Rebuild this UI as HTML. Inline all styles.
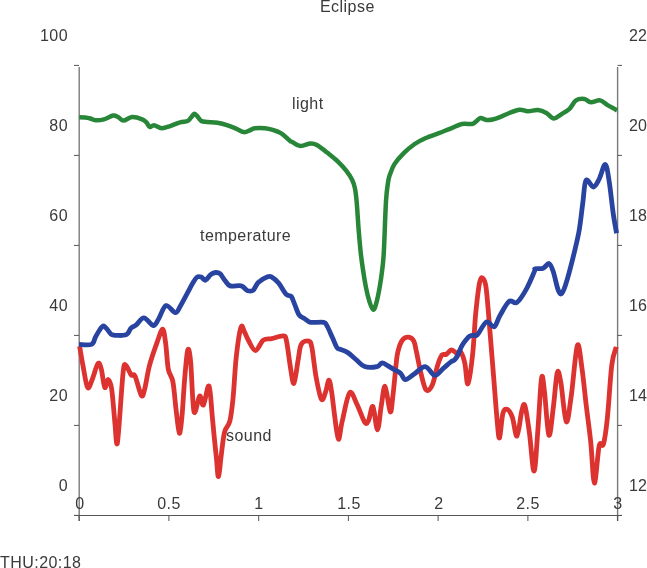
<!DOCTYPE html>
<html><head><meta charset="utf-8"><style>
html,body{margin:0;padding:0;background:#fff;width:647px;height:568px;overflow:hidden}
body{position:relative;font-family:"Liberation Sans",sans-serif;color:#222}
.t{position:absolute;font-size:16px;line-height:16px;white-space:nowrap;letter-spacing:0.45px;color:#3a3a3a;will-change:transform}
.r{text-align:right;width:40px}
.c{text-align:center;width:60px}
</style></head><body>
<svg width="647" height="568" viewBox="0 0 647 568" style="position:absolute;left:0;top:0">
<g stroke="#555" stroke-width="1" fill="none">
<line x1="79.2" y1="67" x2="79.2" y2="521" stroke="#7a7a7a" stroke-width="1.4"/>
<line x1="617.6" y1="67" x2="617.6" y2="521" stroke="#7a7a7a" stroke-width="1.4"/>
<line x1="74" y1="515.5" x2="622" y2="515.5" stroke="#555" stroke-width="1"/>
<line x1="74" y1="65.4" x2="79" y2="65.4"/>
<line x1="617.6" y1="65.4" x2="622" y2="65.4"/>
<line x1="74" y1="155.4" x2="79" y2="155.4"/>
<line x1="617.6" y1="155.4" x2="622" y2="155.4"/>
<line x1="74" y1="245.4" x2="79" y2="245.4"/>
<line x1="617.6" y1="245.4" x2="622" y2="245.4"/>
<line x1="74" y1="335.4" x2="79" y2="335.4"/>
<line x1="617.6" y1="335.4" x2="622" y2="335.4"/>
<line x1="74" y1="425.4" x2="79" y2="425.4"/>
<line x1="617.6" y1="425.4" x2="622" y2="425.4"/>
<line x1="74" y1="515.4" x2="79" y2="515.4"/>
<line x1="617.6" y1="515.4" x2="622" y2="515.4"/>
<line x1="79.2" y1="515.5" x2="79.2" y2="521"/>
<line x1="168.9" y1="515.5" x2="168.9" y2="521"/>
<line x1="258.7" y1="515.5" x2="258.7" y2="521"/>
<line x1="348.4" y1="515.5" x2="348.4" y2="521"/>
<line x1="438.1" y1="515.5" x2="438.1" y2="521"/>
<line x1="527.9" y1="515.5" x2="527.9" y2="521"/>
<line x1="617.6" y1="515.5" x2="617.6" y2="521"/>
</g>
<g fill="none" stroke-width="4.7" stroke-linejoin="round" stroke-linecap="butt">
<path stroke="#dc3230" stroke-width="4.8" d="M79.6,346.3 C80.2,349.6 81.7,358.9 83.0,365.8 C84.3,372.7 86.1,385.2 87.6,387.5 C89.1,389.8 90.5,383.5 92.2,379.5 C93.9,375.5 96.4,365.2 97.9,363.5 C99.4,361.8 100.2,365.2 101.3,369.2 C102.4,373.2 103.6,385.8 104.8,387.5 C106.0,389.2 107.1,379.3 108.2,379.5 C109.3,379.7 110.4,381.1 111.6,388.7 C112.8,396.3 114.2,416.1 115.1,425.3 C115.9,434.5 116.1,442.5 116.7,443.6 C117.3,444.8 117.4,444.0 118.5,432.2 C119.6,420.4 121.9,383.8 123.1,372.6 C124.3,361.5 124.5,364.9 125.8,365.3 C127.1,365.7 129.6,373.1 131.1,374.9 C132.6,376.7 133.3,372.6 135.0,376.0 C136.7,379.4 139.8,393.4 141.4,395.5 C143.0,397.6 143.5,393.6 144.8,388.7 C146.1,383.8 147.4,373.4 149.4,365.8 C151.4,358.2 154.7,349.0 156.9,342.9 C159.1,336.8 161.2,329.2 162.6,329.2 C164.0,329.2 164.6,336.2 165.6,342.9 C166.6,349.6 167.1,362.7 168.3,369.2 C169.5,375.7 171.6,374.7 172.9,381.8 C174.2,388.9 175.2,403.0 176.3,411.6 C177.4,420.2 178.4,432.6 179.3,433.3 C180.2,434.1 181.1,425.5 182.0,416.1 C182.9,406.8 183.8,388.2 184.8,377.2 C185.8,366.1 186.8,352.3 187.8,349.8 C188.8,347.3 189.7,352.0 190.7,362.3 C191.7,372.6 192.5,406.0 194.0,411.6 C195.5,417.2 198.0,397.1 199.6,396.0 C201.2,394.9 201.8,406.7 203.4,405.0 C205.0,403.3 207.5,383.9 209.0,386.0 C210.5,388.1 211.5,408.8 212.4,417.7 C213.3,426.6 213.8,432.8 214.5,439.7 C215.2,446.6 215.9,452.9 216.5,459.0 C217.1,465.1 217.5,474.7 218.1,476.3 C218.7,477.9 219.4,471.6 219.8,468.7 C220.2,465.8 220.2,463.8 220.8,459.0 C221.4,454.2 222.5,444.5 223.2,439.7 C223.9,434.9 224.0,433.5 225.1,430.4 C226.2,427.3 228.6,426.2 229.9,420.9 C231.2,415.6 231.9,409.3 233.0,398.7 C234.1,388.1 234.9,369.4 236.2,357.5 C237.5,345.6 239.5,331.6 240.9,327.4 C242.3,323.1 243.2,329.8 244.5,332.0 C245.8,334.2 246.7,337.4 248.5,340.5 C250.3,343.6 253.0,350.6 255.5,350.5 C258.0,350.4 260.6,342.1 263.3,340.1 C266.0,338.1 268.4,339.3 271.7,338.6 C275.0,337.9 280.8,335.5 283.3,335.9 C285.8,336.3 285.3,336.0 286.5,341.1 C287.7,346.2 289.1,359.4 290.3,366.5 C291.5,373.6 292.6,384.4 293.9,383.4 C295.2,382.3 296.9,366.7 298.1,360.2 C299.3,353.7 299.5,347.5 301.3,344.3 C303.1,341.1 306.9,340.6 308.7,341.1 C310.5,341.6 310.7,341.5 311.9,347.5 C313.1,353.5 314.5,368.5 316.1,377.1 C317.7,385.7 319.8,396.8 321.4,399.3 C323.0,401.8 324.4,395.1 325.6,391.9 C326.9,388.7 327.9,380.1 328.9,380.1 C329.9,380.1 330.6,385.5 331.6,391.7 C332.6,397.9 333.7,409.2 334.8,417.1 C335.9,425.0 337.2,438.6 338.4,439.3 C339.6,440.0 340.3,429.1 342.2,421.3 C344.1,413.6 347.1,395.6 349.6,392.8 C352.1,390.0 354.5,399.5 357.0,404.4 C359.5,409.3 362.9,419.8 364.8,422.4 C366.7,425.0 367.2,422.9 368.6,420.3 C370.0,417.7 371.4,404.9 372.9,406.5 C374.4,408.1 376.1,430.0 377.5,429.8 C378.9,429.6 380.0,412.7 381.3,405.5 C382.6,398.3 383.6,385.3 385.1,386.4 C386.6,387.4 388.9,410.2 390.2,411.8 C391.5,413.4 391.9,403.8 392.9,395.9 C393.9,388.0 395.3,371.6 396.1,364.2 C396.9,356.8 396.9,355.6 397.9,351.6 C398.9,347.6 400.5,342.6 402.3,340.2 C404.1,337.8 406.6,337.0 408.5,337.2 C410.4,337.4 412.5,338.7 413.8,341.1 C415.1,343.5 415.2,346.3 416.4,351.6 C417.6,356.9 419.2,366.3 420.8,372.7 C422.4,379.1 424.2,387.9 426.1,390.0 C428.0,392.1 430.4,389.1 432.3,385.0 C434.2,380.9 435.9,370.7 437.5,365.7 C439.1,360.7 440.4,357.0 441.9,355.1 C443.4,353.2 444.7,355.2 446.3,354.3 C447.9,353.4 449.8,350.0 451.6,349.9 C453.4,349.8 455.4,353.1 456.9,353.4 C458.4,353.7 459.1,350.0 460.4,351.6 C461.7,353.2 463.6,357.8 464.8,363.2 C466.1,368.6 466.6,385.4 467.9,383.8 C469.2,382.2 471.4,365.6 472.7,353.7 C474.0,341.8 474.6,324.4 475.8,312.5 C477.0,300.6 478.4,288.1 479.6,282.4 C480.8,276.7 481.7,277.5 482.8,278.3 C483.9,279.1 484.9,279.9 486.0,287.2 C487.1,294.5 488.0,307.8 489.2,322.0 C490.4,336.2 491.9,355.8 493.3,372.7 C494.7,389.6 496.3,412.6 497.4,423.4 C498.4,434.2 498.7,439.3 499.6,437.7 C500.5,436.1 501.6,418.6 502.8,413.9 C504.0,409.1 505.3,408.7 506.9,409.2 C508.5,409.7 510.6,412.6 512.3,417.1 C514.0,421.6 515.4,437.2 517.0,436.1 C518.6,435.1 520.5,415.8 521.8,410.8 C523.1,405.8 523.7,402.2 525.0,406.0 C526.3,409.8 528.0,422.8 529.5,433.7 C531.0,444.6 532.6,471.1 534.0,471.1 C535.4,471.1 536.4,449.1 537.6,433.7 C538.9,418.2 540.4,385.4 541.5,378.4 C542.6,371.4 543.3,382.3 544.5,391.8 C545.7,401.3 547.4,432.7 548.9,435.2 C550.4,437.7 552.0,417.3 553.4,406.8 C554.8,396.3 556.0,376.4 557.3,372.4 C558.5,368.4 559.4,374.7 560.9,382.9 C562.4,391.1 564.5,419.8 566.3,421.8 C568.0,423.8 569.5,407.5 571.4,394.8 C573.2,382.1 575.6,349.9 577.4,345.4 C579.1,340.9 580.4,357.7 581.9,367.9 C583.4,378.1 584.9,394.3 586.4,406.8 C587.9,419.3 589.5,430.0 590.8,442.7 C592.1,455.4 593.0,482.6 594.4,483.1 C595.8,483.6 597.7,452.2 599.2,445.7 C600.7,439.2 602.0,448.7 603.4,444.2 C604.8,439.7 605.9,432.0 607.3,418.8 C608.7,405.6 610.3,376.9 611.8,364.9 C613.3,352.9 615.5,349.9 616.3,346.9"/>
<path stroke="#2844a0" stroke-width="4.8" d="M79.0,344.4 C81.1,344.4 88.8,345.6 91.5,344.4 C94.2,343.2 94.2,339.3 95.5,337.0 C96.8,334.7 98.0,332.4 99.3,330.5 C100.6,328.6 102.0,325.8 103.5,325.8 C105.0,325.8 106.7,329.1 108.2,330.6 C109.7,332.1 109.4,334.1 112.4,334.8 C115.4,335.5 122.9,335.9 126.0,334.8 C129.1,333.7 129.4,329.6 131.1,328.0 C132.8,326.4 134.1,326.6 136.2,324.9 C138.3,323.2 141.1,317.7 143.9,317.8 C146.7,317.9 150.8,325.2 153.2,325.5 C155.6,325.8 156.2,322.8 158.3,319.5 C160.4,316.2 163.2,306.7 166.0,305.6 C168.8,304.5 172.9,312.6 175.3,312.7 C177.7,312.8 178.5,309.0 180.4,305.9 C182.3,302.8 184.7,297.9 186.8,294.1 C188.9,290.3 191.1,285.8 192.8,283.0 C194.5,280.2 195.6,278.1 197.0,277.1 C198.4,276.1 199.9,276.6 201.3,277.1 C202.7,277.6 203.9,280.6 205.5,280.2 C207.1,279.8 208.9,275.9 210.6,274.6 C212.3,273.3 214.1,272.6 215.7,272.5 C217.3,272.4 218.4,272.4 220.0,273.7 C221.6,275.0 223.3,278.5 225.0,280.5 C226.7,282.5 227.5,285.0 230.2,285.9 C232.9,286.8 238.4,285.1 241.2,285.9 C244.0,286.6 245.2,289.6 247.2,290.4 C249.2,291.1 251.3,291.7 253.1,290.4 C254.9,289.1 255.8,284.8 258.2,282.5 C260.6,280.2 265.3,277.7 267.6,276.8 C269.9,275.9 270.0,276.1 271.8,277.1 C273.6,278.1 276.2,280.1 278.6,283.0 C281.0,285.9 284.2,292.2 286.3,294.4 C288.4,296.6 289.8,294.7 291.2,296.4 C292.6,298.1 293.4,301.3 294.7,304.4 C296.0,307.5 297.5,312.5 299.1,314.9 C300.7,317.2 302.5,317.3 304.4,318.5 C306.3,319.7 307.3,321.7 310.5,322.3 C313.7,322.9 320.9,321.6 323.7,322.3 C326.5,323.0 325.8,323.8 327.3,326.4 C328.8,329.0 330.9,334.3 332.5,337.8 C334.1,341.3 335.6,345.6 336.9,347.5 C338.1,349.4 338.2,348.5 340.0,349.3 C341.8,350.1 344.7,350.7 347.4,352.4 C350.1,354.1 353.1,357.1 356.0,359.5 C358.9,361.9 361.2,365.4 364.7,366.6 C368.2,367.8 374.2,367.2 377.1,366.6 C380.0,366.0 380.1,363.0 382.0,362.9 C383.9,362.8 386.1,364.9 388.2,366.0 C390.3,367.1 392.3,368.5 394.4,369.7 C396.5,370.9 398.8,371.8 400.6,373.4 C402.5,375.0 403.2,379.5 405.5,379.6 C407.8,379.7 410.9,376.2 414.2,374.0 C417.5,371.8 421.8,366.4 425.2,366.6 C428.6,366.8 431.9,375.1 434.9,375.4 C437.9,375.7 440.6,370.6 443.3,368.4 C446.0,366.1 449.1,363.2 450.9,361.9 C452.7,360.5 453.0,361.3 454.1,360.3 C455.2,359.3 456.1,358.4 457.4,356.0 C458.7,353.6 460.3,348.8 461.7,346.2 C463.1,343.6 464.2,342.1 465.5,340.5 C466.8,338.9 468.2,337.2 469.5,336.3 C470.8,335.4 472.2,335.6 473.5,335.3 C474.8,335.0 475.2,336.9 477.4,334.7 C479.6,332.5 483.7,323.2 486.5,321.9 C489.3,320.6 491.9,327.9 494.2,326.8 C496.4,325.7 497.5,319.7 500.0,315.5 C502.5,311.3 506.3,303.6 509.1,301.4 C511.9,299.2 514.1,304.5 517.0,302.4 C519.9,300.3 523.6,294.0 526.5,288.8 C529.4,283.6 533.0,274.6 534.5,271.3 C536.0,268.0 533.8,269.3 535.3,268.8 C536.8,268.3 540.9,269.2 543.2,268.3 C545.5,267.4 547.3,263.0 549.0,263.5 C550.7,264.0 551.8,267.3 553.2,271.5 C554.7,275.7 556.4,284.9 557.7,288.6 C559.0,292.3 559.9,294.5 561.2,293.9 C562.5,293.2 563.8,290.2 565.6,284.7 C567.4,279.2 570.0,269.7 572.2,260.9 C574.4,252.1 577.1,241.6 578.9,231.9 C580.7,222.2 581.6,211.4 582.8,202.8 C584.0,194.2 584.2,183.0 586.0,180.4 C587.8,177.8 591.2,187.2 593.4,187.0 C595.6,186.8 597.2,182.8 599.2,179.0 C601.2,175.2 603.6,164.1 605.3,164.5 C607.0,164.9 607.9,173.5 609.2,181.7 C610.5,189.8 612.0,204.8 613.2,213.4 C614.4,222.0 616.0,229.9 616.6,233.2"/>
<path stroke="#288638" stroke-width="4.5" d="M79.2,117.3 C80.2,117.3 83.4,117.4 85.2,117.6 C87.0,117.8 88.6,118.1 90.3,118.5 C92.0,118.9 93.1,120.1 95.4,120.2 C97.7,120.3 100.9,120.1 103.9,119.3 C106.9,118.5 110.9,115.9 113.3,115.6 C115.7,115.3 116.7,116.5 118.4,117.3 C120.1,118.1 121.2,120.6 123.5,120.6 C125.8,120.6 128.9,117.3 132.0,117.1 C135.1,116.9 139.8,118.4 142.2,119.3 C144.6,120.2 145.1,121.1 146.4,122.4 C147.7,123.7 148.5,126.5 149.8,127.0 C151.1,127.5 152.0,125.1 154.0,125.3 C156.0,125.5 159.0,128.1 161.7,128.2 C164.4,128.3 167.1,127.1 170.2,126.1 C173.2,125.1 177.1,123.2 180.0,122.4 C182.9,121.5 185.9,121.8 187.7,121.0 C189.5,120.2 189.9,118.8 191.0,117.6 C192.1,116.4 193.0,114.2 194.0,113.9 C195.0,113.6 195.8,114.7 197.0,115.9 C198.2,117.1 199.6,120.0 201.3,121.0 C203.0,122.0 204.5,121.6 207.2,121.9 C209.9,122.2 214.0,122.1 217.4,122.7 C220.8,123.3 224.5,124.3 227.6,125.3 C230.7,126.3 233.4,127.5 236.1,128.6 C238.8,129.7 241.5,131.8 243.8,132.1 C246.1,132.4 247.9,131.1 249.7,130.4 C251.5,129.8 252.2,128.6 254.8,128.2 C257.4,127.8 262.0,127.9 265.0,128.2 C268.0,128.5 269.9,129.0 272.7,129.9 C275.5,130.8 279.2,132.0 282.0,133.8 C284.8,135.6 288.1,139.3 289.7,140.6 C291.3,141.9 290.0,140.9 291.8,141.8 C293.6,142.7 297.2,145.7 300.3,146.0 C303.4,146.3 307.7,143.6 310.5,143.5 C313.3,143.4 314.5,143.6 317.3,145.2 C320.1,146.8 324.1,150.1 327.5,152.8 C330.9,155.5 334.6,158.3 337.7,161.3 C340.8,164.3 343.8,167.6 346.2,170.7 C348.6,173.8 350.7,177.0 352.2,180.0 C353.7,183.0 354.3,185.1 355.0,188.6 C355.7,192.1 356.0,194.8 356.6,201.1 C357.2,207.4 357.8,218.3 358.4,226.6 C359.0,234.8 359.8,243.5 360.5,250.6 C361.2,257.7 362.0,262.9 362.9,269.1 C363.8,275.3 364.9,282.1 366.0,287.6 C367.1,293.2 368.5,298.7 369.7,302.4 C370.9,306.1 372.3,309.8 373.4,309.8 C374.5,309.8 375.5,306.1 376.5,302.4 C377.5,298.7 378.6,293.2 379.6,287.6 C380.6,282.1 381.6,275.3 382.3,269.1 C383.0,262.9 383.3,261.9 383.9,250.6 C384.5,239.3 385.3,212.4 386.0,201.1 C386.7,189.8 387.4,186.9 388.0,182.6 C388.6,178.3 388.6,178.5 389.6,175.5 C390.7,172.5 392.0,168.1 394.3,164.4 C396.6,160.7 400.1,156.7 403.5,153.3 C406.9,149.9 411.0,146.6 414.7,144.0 C418.4,141.4 421.8,139.8 425.8,138.0 C429.8,136.2 434.8,134.7 438.8,133.2 C442.8,131.7 446.0,130.3 449.9,128.8 C453.8,127.3 458.3,124.8 462.0,124.0 C465.7,123.2 469.7,124.5 472.2,124.0 C474.7,123.5 475.4,121.8 476.8,120.8 C478.2,119.8 478.9,118.2 480.5,118.0 C482.1,117.8 484.1,119.6 486.1,119.9 C488.1,120.1 490.3,120.0 492.6,119.5 C494.9,119.0 497.2,118.2 500.0,117.1 C502.8,116.0 506.1,114.2 509.3,113.0 C512.5,111.8 516.4,110.0 519.5,109.7 C522.6,109.4 524.7,111.1 527.8,111.2 C530.9,111.3 534.9,109.8 538.0,110.1 C541.1,110.4 543.8,111.6 546.4,113.0 C549.0,114.4 551.3,118.4 553.8,118.6 C556.3,118.8 558.6,115.9 561.2,114.3 C563.8,112.7 567.0,111.1 569.5,108.8 C572.0,106.5 573.5,102.0 576.0,100.4 C578.5,98.8 581.9,98.7 584.4,99.0 C586.9,99.3 588.3,102.1 590.9,102.3 C593.5,102.5 597.3,99.9 600.1,100.4 C602.9,100.9 605.0,103.5 607.6,105.1 C610.2,106.6 614.3,108.8 615.9,109.7 C617.5,110.6 616.8,110.3 617.0,110.4"/>
</g></svg>
<div class="t" style="left:320px;top:-1px">Eclipse</div>
<div class="t r" style="left:28px;top:28px">100</div>
<div class="t" style="left:629.2px;top:28px;letter-spacing:0.1px">22</div>
<div class="t r" style="left:28px;top:118px">80</div>
<div class="t" style="left:629.2px;top:118px;letter-spacing:0.1px">20</div>
<div class="t r" style="left:28px;top:208px">60</div>
<div class="t" style="left:629.2px;top:208px;letter-spacing:0.1px">18</div>
<div class="t r" style="left:28px;top:298px">40</div>
<div class="t" style="left:629.2px;top:298px;letter-spacing:0.1px">16</div>
<div class="t r" style="left:28px;top:388px">20</div>
<div class="t" style="left:629.2px;top:388px;letter-spacing:0.1px">14</div>
<div class="t r" style="left:28px;top:478px">0</div>
<div class="t" style="left:629.2px;top:478px;letter-spacing:0.1px">12</div>
<div class="t c" style="left:49.7px;top:496px">0</div>
<div class="t c" style="left:139.4px;top:496px">0.5</div>
<div class="t c" style="left:229.2px;top:496px">1</div>
<div class="t c" style="left:318.9px;top:496px">1.5</div>
<div class="t c" style="left:408.6px;top:496px">2</div>
<div class="t c" style="left:498.4px;top:496px">2.5</div>
<div class="t c" style="left:588.1px;top:496px">3</div>
<div class="t" style="left:292px;top:96px">light</div>
<div class="t" style="left:200px;top:228px">temperature</div>
<div class="t" style="left:226px;top:427.5px">sound</div>
<div class="t" style="left:0px;top:555px">THU:20:18</div>
</body></html>
